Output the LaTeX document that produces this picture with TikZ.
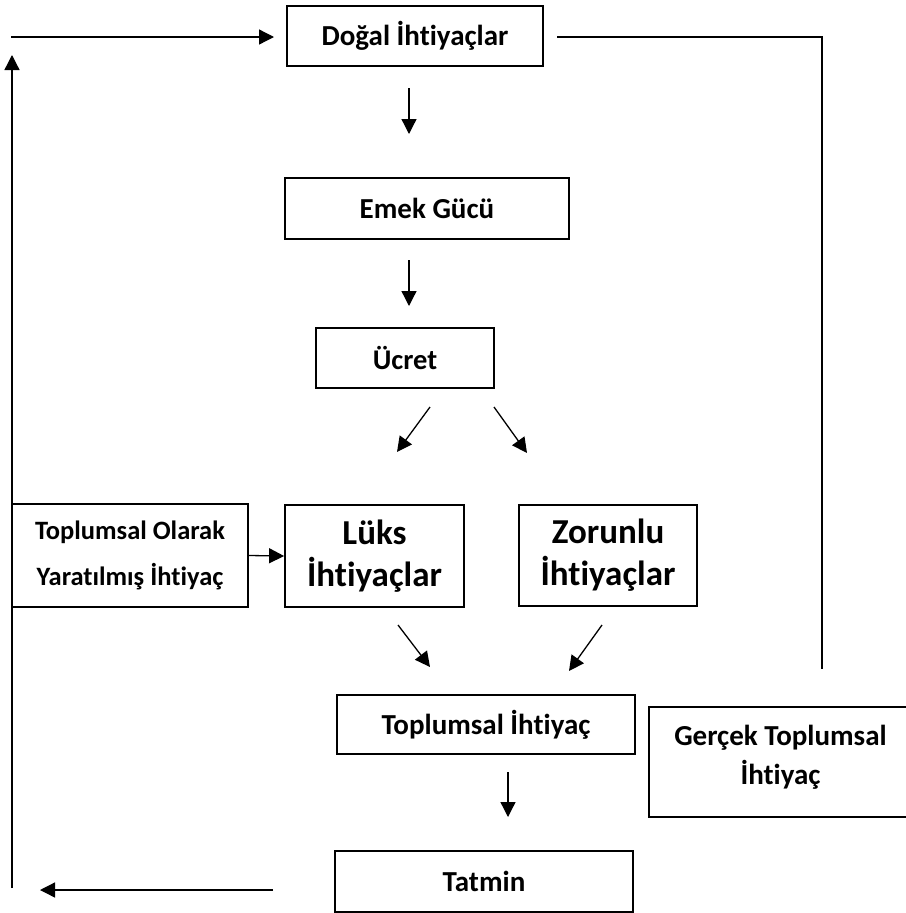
\documentclass[tikz,border=0pt]{standalone}
\usepackage{fontspec}
\setmainfont{Carlito}[RawFeature=-liga]
\usetikzlibrary{arrows.meta}
\begin{document}
\begin{tikzpicture}[x=1pt,y=-1pt,
  box/.style={draw=black,line width=1.8pt,inner sep=0pt,align=center,
    font=\fontsize{29}{39}\selectfont\bfseries},
  txt/.style={inner sep=0pt,align=center},
  arr/.style={line width=1.3pt,-{Triangle[length=15pt,width=15pt]}},
  ln/.style={line width=1.3pt}]
\useasboundingbox (0,0) rectangle (905,913);
% boxes
\node[box,minimum width=256pt,minimum height=60pt] (dogal) at (415,36) {Doğal İhtiyaçlar};
\node[box,minimum width=284pt,minimum height=61pt] (emek) at (427,208.5) {Emek Gücü};
\node[box,minimum width=178pt,minimum height=60pt,font=\fontsize{28.5}{39}\selectfont\bfseries] (ucret) at (405,358) {Ücret};
\node[box,minimum width=236pt,minimum height=103pt,font=\fontsize{26.5}{46}\selectfont\bfseries] (tolarak) at (130,555.5) {Toplumsal Olarak\\Yaratılmış İhtiyaç};
\node[box,minimum width=179pt,minimum height=102pt,font=\fontsize{35}{42}\selectfont\bfseries] (luks) at (374.5,556) {Lüks\\İhtiyaçlar};
\node[box,minimum width=178pt,minimum height=101pt,font=\fontsize{35}{42}\selectfont\bfseries] (zorunlu) at (608,555.5) {Zorunlu\\İhtiyaçlar};
\node[box,minimum width=298pt,minimum height=59pt] (topiht) at (486,724.5) {Toplumsal İhtiyaç};
\node[box,minimum width=258pt,minimum height=110pt] (gercek) at (778,762) {};
\node[txt,font=\fontsize{29}{39}\selectfont\bfseries] (gercektxt) at (780.5,757) {Gerçek Toplumsal\\İhtiyaç};
\node[box,minimum width=298pt,minimum height=61pt] (tatmin) at (484,881.5) {Tatmin};
% coordinates for free connector ends
\coordinate (tl0) at (11,37);
\coordinate (tl1) at (274,37);
\coordinate (lv0) at (12,888);
\coordinate (lv1) at (12,55);
\coordinate (bl0) at (273,890);
\coordinate (bl1) at (40,890);
\coordinate (rl0) at (557,37);
\coordinate (rl1) at (822,37);
\coordinate (rl2) at (822,669);
\coordinate (a1s) at (409,88);
\coordinate (a1e) at (409,134);
\coordinate (a2s) at (409,260);
\coordinate (a2e) at (409,306);
\coordinate (d1s) at (430,407);
\coordinate (d1e) at (397,452);
\coordinate (d2s) at (494,407);
\coordinate (d2e) at (527,453);
\coordinate (d3s) at (398,625);
\coordinate (d3e) at (430,667);
\coordinate (d4s) at (602,625);
\coordinate (d4e) at (569,671);
\coordinate (a3s) at (508,772);
\coordinate (a3e) at (508,817);
% connectors
\draw[arr] (tl0) -- (tl1);
\draw[arr] (lv0) -- (lv1);
\draw[arr] (bl0) -- (bl1);
\draw[ln] (rl0) -- (rl1) -- (rl2);
\draw[arr] (a1s) -- (a1e);
\draw[arr] (a2s) -- (a2e);
\draw[arr] (d1s) -- (d1e);
\draw[arr] (d2s) -- (d2e);
\draw[arr] (d3s) -- (d3e);
\draw[arr] (d4s) -- (d4e);
\draw[arr] (a3s) -- (a3e);
\draw[arr] (tolarak.east) -- (luks.west);
\end{tikzpicture}
\end{document}
